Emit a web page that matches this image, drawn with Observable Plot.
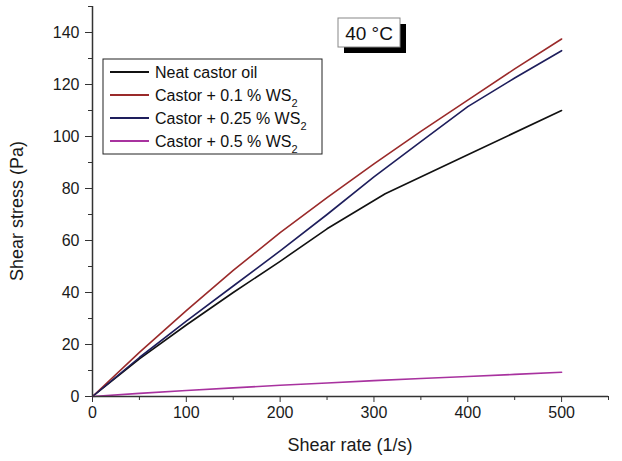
<!DOCTYPE html>
<html>
<head>
<meta charset="utf-8">
<script src="https://cdn.jsdelivr.net/npm/d3@7"></script>
<script src="https://cdn.jsdelivr.net/npm/@observablehq/plot@0.6"></script>
<style>
  html, body { margin: 0; padding: 0; background: #fff; }
  #chart svg { display: block; }
</style>
</head>
<body>
<div id="chart"></div>
<script>
// ---- data ----
const shearRate = [0, 50, 100, 150, 200, 250, 300, 350, 400, 450, 500];
const neatRate  = [0, 50, 100, 150, 200, 250, 312, 400, 500];
const neatStress = [0, 14.5, 27.5, 40, 52, 64.5, 78, 93, 110];
const ws01Stress  = [0, 17, 33, 48.5, 63, 76.5, 89.5, 102, 114, 126, 137.5];
const ws025Stress = [0, 15, 29, 42.5, 56, 70, 84.5, 98, 111.5, 122.5, 133];
const ws05Stress  = [0, 1.2, 2.3, 3.3, 4.3, 5.2, 6.1, 6.9, 7.7, 8.5, 9.3];

const seriesNames = ["Neat castor oil", "Castor + 0.1 % WS", "Castor + 0.25 % WS", "Castor + 0.5 % WS"];
const seriesSub = ["", "2", "2", "2"];
const seriesColors = ["#111111", "#9a2a2a", "#1e1e5c", "#a8329f"];

const xMajor = [0, 100, 200, 300, 400, 500];
const xMinor = [50, 150, 250, 350, 450, 550];
const yMajor = [0, 20, 40, 60, 80, 100, 120, 140];
const yMinor = [10, 30, 50, 70, 90, 110, 130, 150];

const xLabel = "Shear rate (1/s)";
const yLabel = "Shear stress (Pa)";
const tempLabel = "40 °C";

// build table
const rows = [];
neatRate.forEach((x, i) => rows.push({series: seriesNames[0], x, y: neatStress[i]}));
shearRate.forEach((x, i) => rows.push({series: seriesNames[1], x, y: ws01Stress[i]}));
shearRate.forEach((x, i) => rows.push({series: seriesNames[2], x, y: ws025Stress[i]}));
shearRate.forEach((x, i) => rows.push({series: seriesNames[3], x, y: ws05Stress[i]}));

const font = "'Liberation Sans', Arial, sans-serif";

const plot = Plot.plot({
  width: 622,
  height: 461,
  marginLeft: 92,
  marginRight: 14,
  marginTop: 6,
  marginBottom: 65,
  style: {fontFamily: font, fontSize: "16px", color: "#1a1a1a", background: "#fff"},
  x: {domain: [0, 550]},
  y: {domain: [0, 150]},
  color: {domain: seriesNames, range: seriesColors},
  marks: [
    Plot.axisX({ticks: xMajor, tickSize: 6, tickPadding: 4, label: null, fontSize: 16, stroke: "#333"}),
    Plot.axisX({ticks: xMinor, tickSize: 4, tickFormat: () => "", label: null, stroke: "#333"}),
    Plot.axisY({ticks: yMajor, tickSize: 7, tickPadding: 6, label: null, fontSize: 16, stroke: "#333"}),
    Plot.axisY({ticks: yMinor, tickSize: 4, tickFormat: () => "", label: null, stroke: "#333"}),
    Plot.line(rows, {x: "x", y: "y", z: "series", stroke: "series", strokeWidth: 1.6}),
    Plot.ruleY([0], {stroke: "#333", strokeWidth: 1.5}),
    Plot.ruleX([0], {stroke: "#333", strokeWidth: 1.5})
  ]
});
document.getElementById("chart").appendChild(plot);

// ---- annotations: axis titles, legend, temperature box ----
const svg = d3.select(plot);
const xs = plot.scale("x"), ys = plot.scale("y");
const x0 = xs.apply(0), x1 = xs.apply(550);
const yTop = ys.apply(150), yBot = ys.apply(0);

svg.append("text")
  .attr("x", (x0 + x1) / 2).attr("y", 451)
  .attr("text-anchor", "middle")
  .style("font-family", font).style("font-size", "18px").attr("fill", "#1a1a1a")
  .text(xLabel);

svg.append("text")
  .attr("transform", `translate(23,${(yTop + yBot) / 2 + 10}) rotate(-90)`)
  .attr("text-anchor", "middle")
  .style("font-family", font).style("font-size", "18px").attr("fill", "#1a1a1a")
  .text(yLabel);

// legend
const lg = svg.append("g");
lg.append("rect").attr("x", 103).attr("y", 59).attr("width", 219).attr("height", 95)
  .attr("fill", "#fff").attr("stroke", "#222").attr("stroke-width", 1);
const rowY = [72, 95, 118, 141];
seriesNames.forEach((name, i) => {
  lg.append("line").attr("x1", 110).attr("x2", 149).attr("y1", rowY[i]).attr("y2", rowY[i])
    .attr("stroke", seriesColors[i]).attr("stroke-width", 1.8);
  const t = lg.append("text").attr("x", 155).attr("y", rowY[i] + 6)
    .attr("text-anchor", "start")
    .style("font-family", font).style("font-size", "16px").attr("fill", "#111");
  t.append("tspan").text(name);
  if (seriesSub[i]) t.append("tspan").attr("dy", 6).style("font-size", "11px").text(seriesSub[i]);
});

// temperature box with shadow
const tb = svg.append("g");
tb.append("rect").attr("x", 344).attr("y", 24).attr("width", 62).attr("height", 29).attr("fill", "#000");
tb.append("rect").attr("x", 338).attr("y", 18).attr("width", 62).attr("height", 29)
  .attr("fill", "#fff").attr("stroke", "#888").attr("stroke-width", 1);
tb.append("text").attr("x", 369).attr("y", 40).attr("text-anchor", "middle")
  .style("font-family", font).style("font-size", "19px").attr("fill", "#111")
  .text(tempLabel);
</script>
</body>
</html>
